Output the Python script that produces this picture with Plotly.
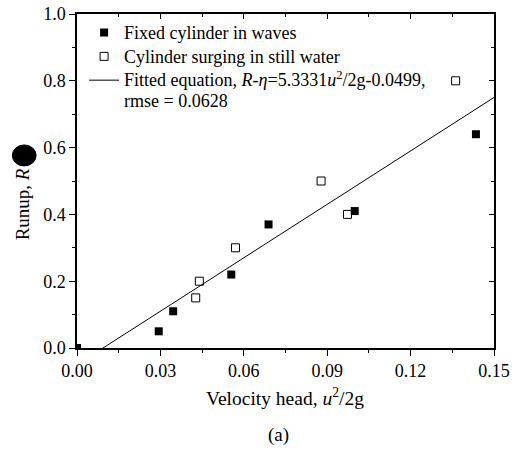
import plotly.graph_objects as go

# fixed cylinder in waves
fixed_x = [0.0, 0.0294, 0.0346, 0.0555, 0.0689, 0.0999, 0.1435]
fixed_y = [0.0, 0.05, 0.11, 0.22, 0.37, 0.41, 0.64]

# cylinder surging in still water
surge_x = [0.0427, 0.0440, 0.0570, 0.0878, 0.0973, 0.1362]
surge_y = [0.15, 0.20, 0.30, 0.50, 0.40, 0.80]

# fitted equation R-eta = a*u^2/2g + b
fit_a = 5.3331
fit_b = -0.0499
fit_x = [0.0, 0.15]
fit_y = [fit_a * v + fit_b for v in fit_x]

FONT = "Liberation Serif"


def big(s):
    # legend rows are spaced by the 16px legend font, text drawn at 18px
    return '<span style="font-size:18px">' + s + "</span>"


fig = go.Figure()

fig.add_trace(go.Scatter(
    x=fixed_x, y=fixed_y, mode="markers", name=big("Fixed cylinder in waves"),
    marker=dict(symbol="square", size=8, color="black"),
))
fig.add_trace(go.Scatter(
    x=surge_x, y=surge_y, mode="markers", name=big("Cylinder surging in still water"),
    marker=dict(symbol="square-open", size=8, color="black", line=dict(width=1)),
))
fig.add_trace(go.Scatter(
    x=fit_x, y=fit_y, mode="lines",
    name=big("Fitted equation, <i>R</i>-<i>η</i>=5.3331<i>u</i><sup>2</sup>/2g-0.0499,")
    + "<br>" + big("rmse = 0.0628"),
    line=dict(color="black", width=1),
))

axis_common = dict(
    showline=True, linecolor="black", linewidth=1.5, showgrid=False, zeroline=False,
    tickcolor="black", tickwidth=1.2, ticklabeloverflow="allow",
    tickfont=dict(family=FONT, size=18, color="black"),
)

fig.update_layout(
    width=515, height=459,
    margin=dict(l=77, r=21, t=14, b=111, autoexpand=False),
    plot_bgcolor="white", paper_bgcolor="white",
    font=dict(family=FONT, size=18, color="black"),
    showlegend=True,
    legend=dict(
        x=0.017, y=0.995, xanchor="left", yanchor="top",
        bgcolor="rgba(0,0,0,0)", font=dict(family=FONT, size=16),
        valign="top", tracegroupgap=0,
    ),
    xaxis=dict(
        range=[0, 0.15], dtick=0.03, tickformat=".2f", ticks="outside", ticklen=6,
        minor=dict(dtick=0.015, ticks="outside", ticklen=3, tickcolor="black"),
        **axis_common,
    ),
    yaxis=dict(
        range=[0, 1.0], dtick=0.2, tickformat=".1f", ticks="outside", ticklen=6,
        minor=dict(dtick=0.1, ticks="outside", ticklen=3, tickcolor="black"),
        **axis_common,
    ),
    xaxis2=dict(
        overlaying="x", side="top", anchor="y", range=[0, 0.15], dtick=0.03,
        ticks="inside", ticklen=5, showticklabels=False,
        minor=dict(dtick=0.015, ticks="inside", ticklen=3, tickcolor="black"),
        **axis_common,
    ),
    yaxis2=dict(
        overlaying="y", side="right", anchor="x", range=[0, 1.0], dtick=0.2,
        ticks="inside", ticklen=5, showticklabels=False,
        minor=dict(dtick=0.1, ticks="inside", ticklen=3, tickcolor="black"),
        **axis_common,
    ),
)

fig.add_trace(go.Scatter(x=[], y=[], xaxis="x2", yaxis="y2", showlegend=False))

fig.add_annotation(
    text="Velocity head, <i>u</i><sup>2</sup>/2g", xref="paper", yref="paper",
    x=0.499, y=-0.147, xanchor="center", yanchor="middle", showarrow=False,
    font=dict(family=FONT, size=19.5),
)
fig.add_annotation(
    text="Runup, <i>R</i>", xref="paper", yref="paper", textangle=-90,
    x=-0.132, y=0.43, xanchor="center", yanchor="middle", showarrow=False,
    font=dict(family=FONT, size=19),
)
fig.add_annotation(
    text="(a)", xref="paper", yref="paper",
    x=0.484, y=-0.26, xanchor="center", yanchor="middle", showarrow=False,
    font=dict(family=FONT, size=19),
)

# black blot over the end of the y title
fig.add_shape(
    type="circle", xref="paper", yref="paper",
    x0=-0.155, x1=-0.098, y0=0.545, y1=0.608,
    fillcolor="black", line=dict(color="black", width=1),
)

# drop the page's default body margin so the figure fills the window
fig.write_html(
    "out.html",
    config={"displayModeBar": False},
    post_script="document.body.style.margin = '0';",
)
